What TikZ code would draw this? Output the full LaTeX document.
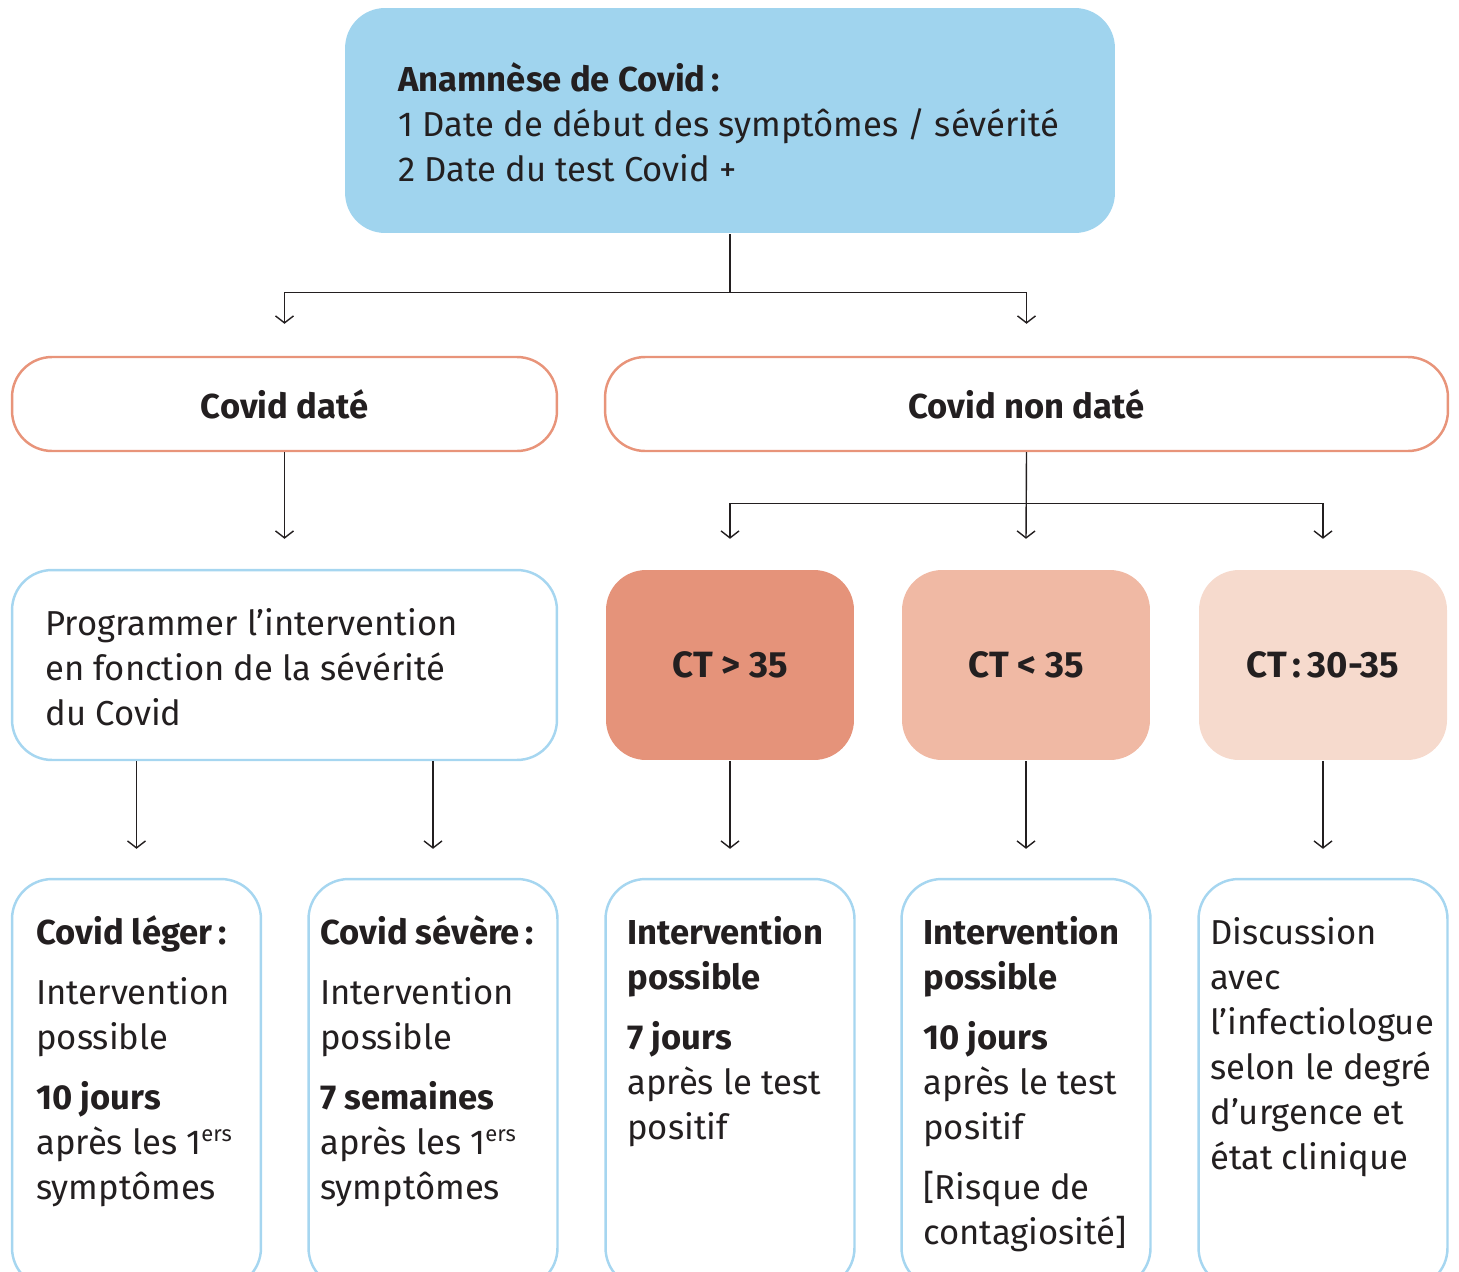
\documentclass[tikz,border=0pt]{standalone}
\usepackage{fontspec}
\setmainfont{Fira Sans}
\usepackage{tikz}
\usetikzlibrary{arrows.meta, positioning}
\definecolor{skyfill}{HTML}{A0D4EE}
\definecolor{skyline}{HTML}{A6D6F0}
\definecolor{salmon}{HTML}{E8947A}
\definecolor{ctdark}{HTML}{E5937A}
\definecolor{ctmid}{HTML}{F0B9A4}
\definecolor{ctlight}{HTML}{F6DACD}
\definecolor{ink}{HTML}{231F20}
\newcommand{\bodyfont}{\fontsize{19.7}{25.6}\selectfont}
\newcommand{\topstrut}{\rule{0pt}{24pt}}
\newcommand{\ers}{\textsuperscript{\fontsize{12.5}{12.5}\selectfont ers}}
\tikzstyle{box}=[rounded corners=0.8cm,inner sep=0pt,line width=1.4pt,text=ink]
\tikzstyle{head}=[box,draw=salmon,fill=white,minimum height=1.88cm,font=\bodyfont\bfseries]
\tikzstyle{ctbox}=[box,minimum width=4.96cm,minimum height=3.8cm,font=\fontsize{20.8}{26}\selectfont\bfseries]
\tikzstyle{leaf}=[box,draw=skyline,fill=white,minimum width=4.98cm,minimum height=8.18cm]
\tikzstyle{txt}=[inner sep=0pt,anchor=north west,align=left,text=ink,font=\bodyfont]
\tikzstyle{arr}=[draw=ink,line width=0.8pt,-{Straight Barb[length=0.14cm,width=0.36cm]}]

\begin{document}
\begin{tikzpicture}[x=0.02cm,y=-0.02cm]
    \useasboundingbox (0,0) rectangle (1459,1271);
    \clip (0,0) rectangle (1459,1271);
    % anamnese
    \node[box,fill=skyfill,minimum width=15.4cm,minimum height=4.5cm] (anam) at (730,120.5) {};
    \node[txt] (anamtxt) at (398,48.7) {\topstrut\textbf{Anamnèse de Covid\,:}\\
        1 Date de début des symptômes / sévérité\\
        2 Date du test Covid +};
    % dated or not
    \node[head,minimum width=10.9cm] (dated) at (284.5,404) {Covid daté};
    \node[head,minimum width=16.86cm] (undated) at (1026.5,404) {Covid non daté};
    \node[box,draw=skyline,fill=white,minimum width=10.9cm,minimum height=3.8cm] (prog) at (284.5,665) {};
    \node[txt] (progtxt) at (45,593.2) {\topstrut Programmer l’intervention\\
        en fonction de la sévérité\\
        du Covid};
    \node[ctbox,fill=ctdark] (ct1) at (730,665) {CT > 35};
    \node[ctbox,fill=ctmid] (ct2) at (1026,665) {CT < 35};
    \node[ctbox,fill=ctlight] (ct3) at (1323,665) {CT\,:\,30-35};
    % leaves
    \node[leaf] (leger) at (136.5,1083.5) {};
    \node[leaf] (severe) at (433,1083.5) {};
    \node[leaf] (pos7) at (730,1083.5) {};
    \node[leaf] (pos10) at (1026,1083.5) {};
    \node[leaf] (disc) at (1323,1083.5) {};
    \node[txt] (legertxt) at (36,902.2) {\topstrut\textbf{Covid léger\,:}\\[0.3cm]
        Intervention\\ possible\\[0.3cm]
        \textbf{10 jours}\\ après les 1\ers\\ symptômes};
    \node[txt] (severetxt) at (320,902.2) {\topstrut\textbf{Covid sévère\,:}\\[0.3cm]
        Intervention\\ possible\\[0.3cm]
        \textbf{7 semaines}\\ après les 1\ers\\ symptômes};
    \node[txt] (pos7txt) at (627,902.2) {\topstrut\textbf{Intervention}\\ \textbf{possible}\\[0.3cm]
        \textbf{7 jours}\\ après le test\\ positif};
    \node[txt] (pos10txt) at (923,902.2) {\topstrut\textbf{Intervention}\\ \textbf{possible}\\[0.3cm]
        \textbf{10 jours}\\ après le test\\ positif\\[0.3cm]
        [Risque de\\ contagiosité]};
    \node[txt] (disctxt) at (1210,902.2) {\topstrut Discussion\\ avec\\ l’infectiologue\\
        selon le degré\\ d’urgence et\\ état clinique};
    % connectors
    \draw[arr] (anam.south) -- ++(0,58) -| ([yshift=0.64cm]dated.north);
    \draw[arr] (anam.south) -- ++(0,58) -| ([yshift=0.64cm]undated.north);
    \draw[arr] (dated.south) -- ([yshift=0.6cm]prog.north);
    \draw[arr] (undated.south) -- ([yshift=0.6cm]ct2.north);
    \draw[arr] (undated.south) -- ++(0,51) -| ([yshift=0.6cm]ct1.north);
    \draw[arr] (undated.south) -- ++(0,51) -| ([yshift=0.6cm]ct3.north);
    \draw[arr] (prog.south -| leger.north) -- ([yshift=0.58cm]leger.north);
    \draw[arr] (prog.south -| severe.north) -- ([yshift=0.58cm]severe.north);
    \draw[arr] (ct1.south) -- ([yshift=0.58cm]pos7.north);
    \draw[arr] (ct2.south) -- ([yshift=0.58cm]pos10.north);
    \draw[arr] (ct3.south) -- ([yshift=0.58cm]disc.north);
\end{tikzpicture}
\end{document}
